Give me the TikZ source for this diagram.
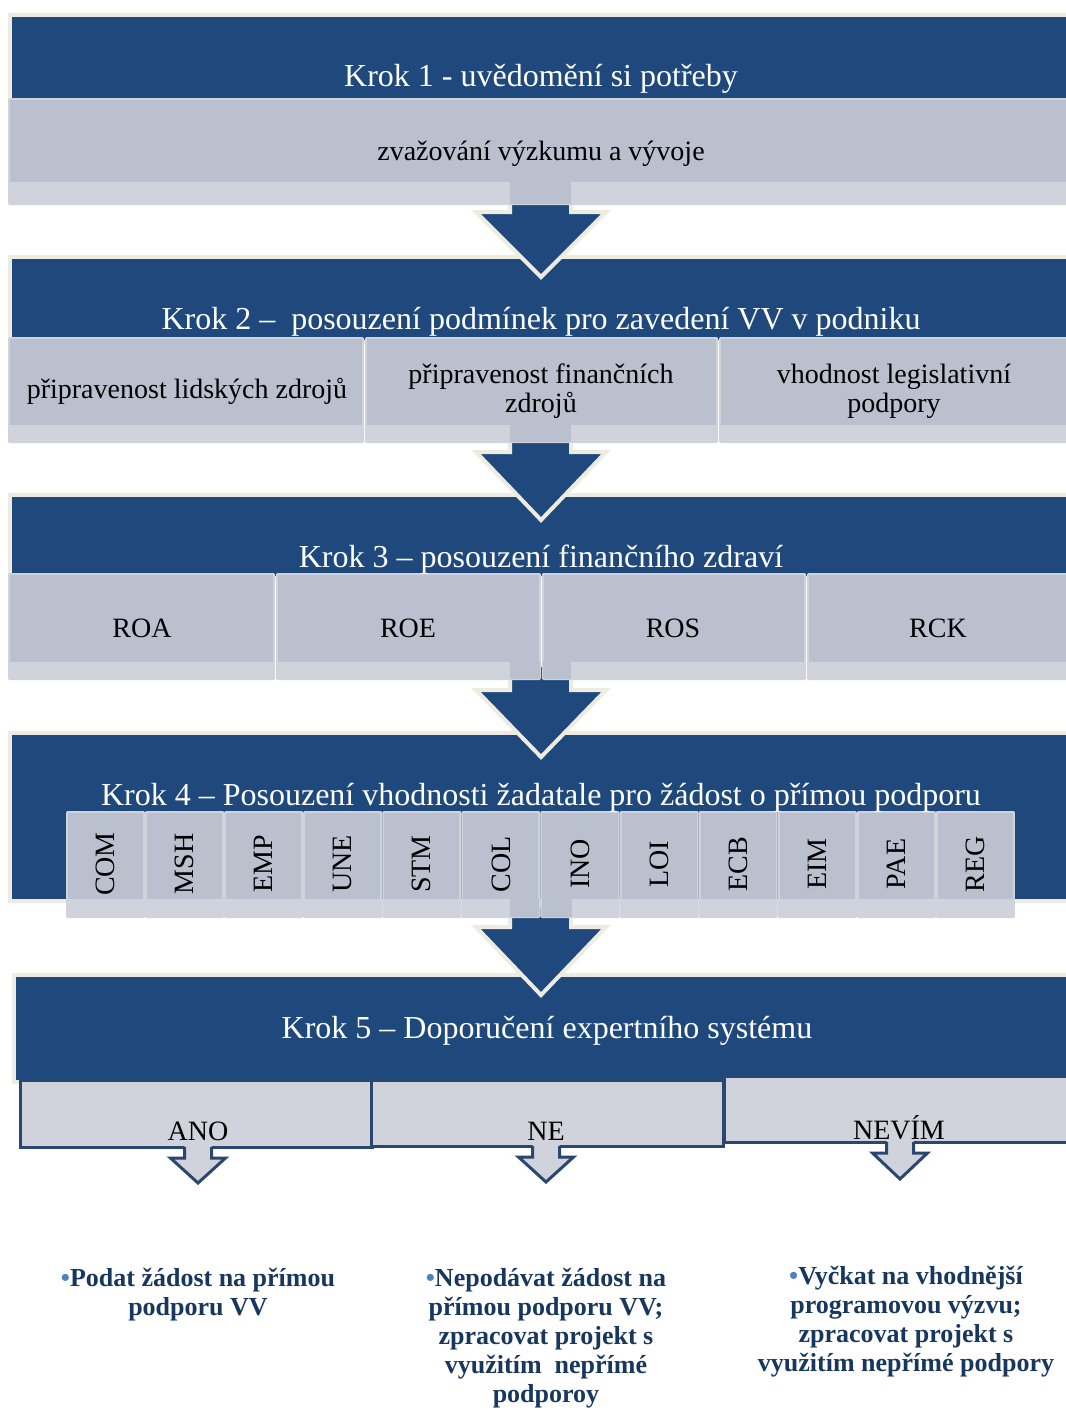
\documentclass[tikz,border=0pt]{standalone}
\usepackage{fontspec}
\setmainfont{Liberation Serif}
\definecolor{kblue}{HTML}{1F497D}
\definecolor{kbeige}{HTML}{EEECE1}
\definecolor{kbox}{HTML}{BBC0CE}
\definecolor{kstrip}{HTML}{D0D3DC}
\definecolor{kdark}{HTML}{2A4770}
\definecolor{ktext}{HTML}{17375E}
\definecolor{kbullet}{HTML}{4F81BD}
\newcommand\kblock[4]{% x1 y1 x2 y2 : beige frame + blue
  \fill[kbeige] (#1-4,#2-4) rectangle (#3+5,#4+4);
  \fill[kblue] (#1,#2) rectangle (#3+5,#4);}
\newcommand\klbox[5]{% x1 y1 x2 y2 ystrip
  \fill[kstrip,rounded corners=1pt] (#1,#2) rectangle (#3,#4);
  \fill[kbox] (#1+2,#2+2) rectangle (#3-2,#5);}
\newcommand\kgap[4]{% x1 x2 ystrip y2 : box colour where the arrow shaft is
  \fill[kbox] (#1,#3-1) rectangle (#2,#4-1);}
\newcommand\kbigarrow[3]{% shaft top, head top, tip
  \filldraw[fill=kblue,draw=kbeige,line width=3pt,line join=miter]
   (510,#1) -- (510,#2) -- (476,#2) -- (541,#3) -- (606,#2) -- (571,#2) -- (571,#1) -- cycle;}
\newcommand\ksmallarrow[4]{% centre x, box bottom, head top, tip
  \fill[kstrip] (#1-13.5,#2-3) -- (#1-13.5,#3) -- (#1-27.5,#3) -- (#1,#4) -- (#1+27.5,#3) -- (#1+13.5,#3) -- (#1+13.5,#2-3) -- cycle;
  \draw[kdark,line width=2.25pt,line join=miter] (#1-13.5,#2) -- (#1-13.5,#3) -- (#1-27.5,#3) -- (#1,#4) -- (#1+27.5,#3) -- (#1+13.5,#3) -- (#1+13.5,#2);}
\tikzset{
  x=0.75pt,y=-0.75pt,
  headtext/.style={text=white,font=\fontsize{24}{27}\selectfont,inner sep=0pt},
  boxtext/.style={text=black,font=\fontsize{21}{22}\selectfont,inner sep=0pt,align=center},
  vtext/.style={text=black,font=\fontsize{21}{22}\selectfont,inner sep=0pt,rotate=90},
  outtext/.style={text=ktext,font=\bfseries\fontsize{19.5}{21.75}\selectfont,inner sep=0pt,align=center,anchor=north},
  resbox/.style={fill=kstrip,draw=kdark,line width=2.25pt}
}
\newcommand\kb{{\color{kbullet}\textbullet}}
\begin{document}
\begin{tikzpicture}
\useasboundingbox (0,0) rectangle (1065,1410);
\fill[white] (0,0) rectangle (1065,1410);
% blue blocks
\kblock{12}{17}{1065}{100}
\kblock{12}{259}{1065}{340}
\kblock{12}{497}{1065}{576}
\kblock{12}{735}{1065}{899}
\kblock{16}{977}{1065}{1080}
% big arrows
\kbigarrow{190}{212}{277}
\kbigarrow{430}{452}{520}
\kbigarrow{665}{690}{757}
\kbigarrow{905}{927}{995}
% step 1 light box
\klbox{8}{98}{1070}{205}{182}
\kgap{510}{571}{182}{205}
% step 2 light boxes
\klbox{8}{337}{364}{443}{425}
\klbox{365}{337}{718}{443}{425}
\klbox{719}{337}{1070}{443}{425}
\kgap{510}{571}{425}{443}
% step 3 light boxes
\klbox{8}{573}{275}{680}{662}
\klbox{276}{573}{541}{680}{662}
\klbox{542}{573}{806}{680}{662}
\klbox{807}{573}{1070}{680}{662}
\kgap{510}{540}{662}{680}
\kgap{543}{571}{662}{680}
% step 4 light boxes
\foreach \i in {0,...,11}{
  \pgfmathsetmacro\xa{66+79.08*\i}
  \pgfmathsetmacro\xb{66+79.08*(\i+1)}
  \klbox{\xa}{811}{\xb}{918}{899}
}
\kgap{510}{539}{899}{918}
\kgap{542}{572}{899}{918}
% texts
\node[headtext] (s1) at (541,79) {Krok 1 - uvědomění si potřeby};
\node[boxtext] (s1a) at (541,154) {zvažování výzkumu a vývoje};
\node[headtext] (s2) at (541,322) {Krok 2 –\ \ posouzení podmínek pro zavedení VV v podniku};
\node[boxtext] (s2a) at (187,391) {připravenost lidských zdrojů};
\node[boxtext] (s2b) at (541,391) {připravenost finančních\\zdrojů};
\node[boxtext] (s2c) at (894,391) {vhodnost legislativní\\podpory};
\node[headtext] (s3) at (541,560) {Krok 3 – posouzení finančního zdraví};
\node[boxtext] (s3a) at (142,628) {ROA};
\node[boxtext] (s3b) at (408,628) {ROE};
\node[boxtext] (s3c) at (673,628) {ROS};
\node[boxtext] (s3d) at (938,628) {RCK};
\node[headtext] (s4) at (541,798) {Krok 4 – Posouzení vhodnosti žadatale pro žádost o přímou podporu};
\foreach \t [count=\i from 0] in {COM,MSH,EMP,UNE,STM,COL,INO,LOI,ECB,EIM,PAE,REG}{
  \node[vtext] (v\i) at ({66+79.08*(\i+0.5)},864) {\t};
}
\node[headtext] (s5) at (547,1031) {Krok 5 – Doporučení expertního systému};
% step 5 result boxes
\path[resbox] (20,1080) rectangle (372,1147);
\path[resbox] (371,1080) rectangle (723,1146);
\path[resbox] (724,1076) rectangle (1072,1142);
\node[boxtext] (ano) at (198,1131) {ANO};
\node[boxtext] (ne) at (546,1131) {NE};
\node[boxtext] (nevim) at (899,1128) {NEVÍM};
\ksmallarrow{198}{1147}{1158}{1183}
\ksmallarrow{546}{1146}{1157}{1182}
\ksmallarrow{900}{1142}{1153}{1179}
% outcome texts
\node[outtext] (r1) at (198,1268) {\kb Podat žádost na přímou\\podporu VV};
\node[outtext] (r2) at (546,1268) {\kb Nepodávat žádost na\\přímou podporu VV;\\zpracovat projekt s\\využitím\ \ nepřímé\\podporoy};
\node[outtext] (r3) at (906,1266) {\kb Vyčkat na vhodnější\\programovou výzvu;\\zpracovat projekt s\\využitím nepřímé podpory};
\end{tikzpicture}
\end{document}
